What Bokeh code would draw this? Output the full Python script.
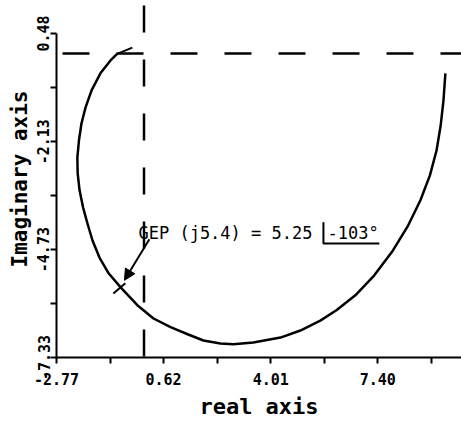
from bokeh.plotting import figure
from bokeh.models import Range1d, FixedTicker, Span, Label, Arrow, NormalHead
from bokeh.embed import file_html
from bokeh.resources import INLINE

# ---- data ----
x_ticks = [-2.77, -1.075, 0.62, 2.315, 4.01, 5.705, 7.40, 9.095]
x_tick_labels = ["-2.77", "", "0.62", "", "4.01", "", "7.40", ""]
y_ticks = [-7.33, -6.03, -4.73, -3.43, -2.13, -0.825, 0.48]
y_tick_labels = ["-7.33", "", "-4.73", "", "-2.13", "", "0.48"]

# frequency response locus (real, imaginary), from the top-right end around to the top-left end
re_vals = [9.54, 9.48, 9.39, 9.26, 9.05, 8.75, 8.36, 7.88, 7.29, 6.69, 6.09, 5.58,
           4.95, 4.32, 3.46, 2.83, 2.42, 1.88, 1.38, 0.84, 0.30, -0.21,
           -0.74, -1.12, -1.41, -1.63, -1.79, -1.93, -2.04, -2.10, -2.11, -2.06,
           -1.98, -1.85, -1.66, -1.38, -1.06, -0.85]
im_vals = [-0.48, -1.13, -1.74, -2.34, -2.94, -3.54, -4.15, -4.75, -5.35, -5.83, -6.19, -6.44,
           -6.68, -6.85, -6.97, -7.01, -6.99, -6.92, -6.77, -6.60, -6.39, -6.07,
           -5.64, -5.30, -4.92, -4.51, -4.10, -3.71, -3.30, -2.89, -2.51, -2.10,
           -1.69, -1.30, -0.89, -0.48, -0.17, -0.01]

gep_re = -0.74
gep_im = -5.64
gep_text = "GEP (j5.4) = 5.25"
gep_angle_text = "-103°"

FONT = "DejaVu Sans Mono"

p = figure(frame_width=405, frame_height=357,
           x_range=Range1d(-2.77, 10.05), y_range=Range1d(-7.33, 1.275),
           output_backend="svg", toolbar_location=None,
           min_border_top=0, min_border_right=0, min_border_left=56, min_border_bottom=60,
           outline_line_color=None, background_fill_color="white", border_fill_color="white")
p.grid.visible = False

for ax in p.axis:
    ax.axis_line_width = 2
    ax.axis_line_color = "black"
    ax.major_tick_line_width = 2
    ax.major_tick_line_color = "black"
    ax.major_tick_out = 6
    ax.major_tick_in = 0
    ax.minor_tick_out = 0
    ax.minor_tick_in = 0
    ax.major_label_text_font = FONT
    ax.major_label_text_font_style = "bold"
    ax.major_label_text_font_size = "15px"
    ax.major_label_text_color = "black"
    ax.axis_label_text_font = FONT
    ax.axis_label_text_font_style = "bold"
    ax.axis_label_text_color = "black"

p.xaxis.ticker = FixedTicker(ticks=x_ticks, minor_ticks=[])
p.xaxis.major_label_overrides = {t: l for t, l in zip(x_ticks, x_tick_labels)}
p.xaxis.major_label_standoff = 9
p.xaxis.axis_label = "real axis"
p.xaxis.axis_label_text_font_size = "22px"
p.xaxis.axis_label_standoff = 6

p.yaxis.ticker = FixedTicker(ticks=y_ticks, minor_ticks=[])
p.yaxis.major_label_overrides = {t: l for t, l in zip(y_ticks, y_tick_labels)}
p.yaxis.major_label_orientation = "vertical"
p.yaxis.major_label_standoff = 1
p.yaxis.bounds = (y_ticks[0], y_ticks[-1])
p.yaxis.axis_label = "Imaginary axis"
p.yaxis.axis_label_text_font_size = "21px"
p.yaxis.axis_label_standoff = 3

# dashed axes through the origin
p.add_layout(Span(location=0, dimension="width", line_color="black", line_width=2.5,
                  line_dash="27 27", line_dash_offset=48))
p.add_layout(Span(location=0, dimension="height", line_color="black", line_width=2.5,
                  line_dash="27 27", line_dash_offset=49))

# locus
p.line(re_vals, im_vals, line_color="black", line_width=2.5, line_join="round")
# direction barb at the end of the locus
p.segment(x0=[re_vals[-1]], y0=[im_vals[-1]], x1=[re_vals[-1] + 0.48], y1=[im_vals[-1] + 0.15],
          line_color="black", line_width=2)

# cross mark at the GEP point
p.segment(x0=[gep_re - 0.23], y0=[gep_im - 0.145], x1=[gep_re + 0.15], y1=[gep_im + 0.10],
          line_color="black", line_width=2)

# pointer arrow
p.add_layout(Arrow(end=NormalHead(size=11, fill_color="black", line_color="black"),
                   x_start=gep_re + 0.91, y_start=gep_im + 1.16,
                   x_end=gep_re + 0.12, y_end=gep_im + 0.17,
                   line_color="black", line_width=2))

# annotation text
p.add_layout(Label(x=gep_re + 0.565, y=gep_im + 1.30, text=gep_text, text_font=FONT,
                   text_font_size="17px", text_color="black", text_baseline="alphabetic"))
p.add_layout(Label(x=gep_re + 6.55, y=gep_im + 1.30, text=gep_angle_text, text_font=FONT,
                   text_font_size="17px", text_color="black", text_baseline="alphabetic"))
# angle bracket
p.line([gep_re + 6.42, gep_re + 6.42, gep_re + 8.19],
       [gep_im + 1.57, gep_im + 1.06, gep_im + 1.06], line_color="black", line_width=2)

open("out.html", "w").write(file_html(p, INLINE))
